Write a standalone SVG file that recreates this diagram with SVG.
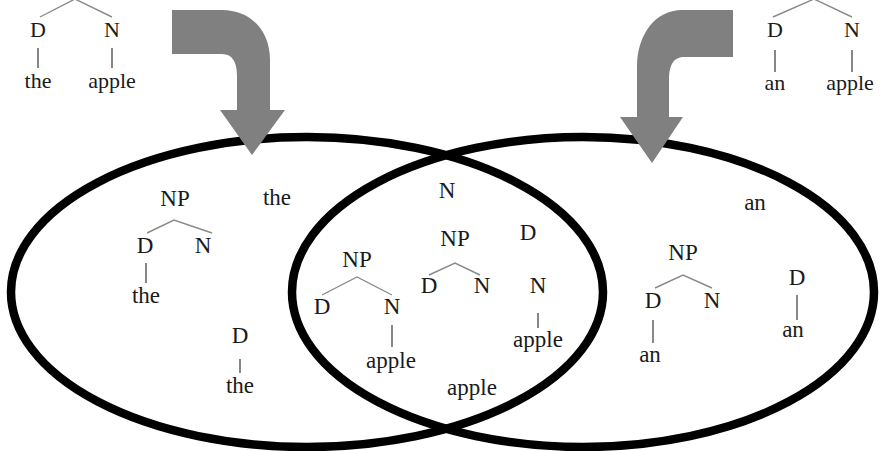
<svg xmlns="http://www.w3.org/2000/svg" width="882" height="451" viewBox="0 0 882 451">
<style>
text{font-family:"Liberation Serif","Times New Roman",Times,"DejaVu Serif","Noto Serif",FreeSerif,Tinos,serif;font-size:23px;fill:#1a1a1a;text-anchor:middle}
text.sm{font-size:22px}
.br{stroke:#8a8a8a;stroke-width:1.4;fill:none}
.vl{stroke:#555;stroke-width:1.4;fill:none}
.set{fill:none;stroke:#000;stroke-width:8.5}
.arrow{fill:#808080;stroke:none}
</style>
<rect width="882" height="451" fill="#fff"/>
<g id="input-the-apple">
<path class="br" d="M40,17 L75,-1 L112,17"/>
<text class="sm" x="38" y="37">D</text><text class="sm" x="112" y="37">N</text>
<path class="vl" d="M38,48 V68 M112,48 V68"/>
<text class="sm" x="38" y="88">the</text><text class="sm" x="112" y="88">apple</text>
</g>
<g id="input-an-apple">
<path class="br" d="M773,17 L814,-1 L852,17"/>
<text class="sm" x="775" y="37">D</text><text class="sm" x="852" y="37">N</text>
<path class="vl" d="M775,50 V72 M852,50 V72"/>
<text class="sm" x="775" y="90">an</text><text class="sm" x="850" y="90">apple</text>
</g>
<g id="sets">
<ellipse id="set-left" class="set" cx="307" cy="292" rx="296" ry="155"/>
<ellipse id="set-right" class="set" cx="583" cy="292" rx="291" ry="155"/>
</g>
<g id="connectors">
<path id="arrow-left" class="arrow" d="M172,10 L222,10 C250,10 270,30 270,60 L270,110 L285,110 L252,155 L220,110 L237,110 L237,76 C237,63 233,54 222,54 L172,54 Z"/>
<path id="arrow-right" class="arrow" d="M733,10 L682,10 C655,10 637,35 637,67 L637,117 L620,117 L652,163 L683,117 L669,117 L669,80 C669,66 673,57 684,57 L733,57 Z"/>
</g>
<g id="left-only">
<text x="175" y="206">NP</text>
<path class="br" d="M147,233 L174,220 L212,233"/>
<text x="145" y="253">D</text><text x="203" y="253">N</text>
<path class="vl" d="M146,263 V283"/>
<text x="146" y="303">the</text>
<text x="277" y="205">the</text>
<text x="240" y="343">D</text>
<path class="vl" d="M240,359 V373"/>
<text x="240" y="393">the</text>
</g>
<g id="shared">
<text x="447" y="198">N</text>
<text x="455" y="246">NP</text>
<path class="br" d="M429,275 L455,263 L480,275"/>
<text x="429" y="293">D</text><text x="482" y="293">N</text>
<text x="528" y="240">D</text>
<text x="538" y="293">N</text>
<path class="vl" d="M538,313 V328"/>
<text x="538" y="347">apple</text>
<text x="357" y="267">NP</text>
<path class="br" d="M322,295 L357,277 L392,295"/>
<text x="322" y="314">D</text><text x="392" y="314">N</text>
<path class="vl" d="M392,325 V347"/>
<text x="391" y="368">apple</text>
<text x="472" y="395">apple</text>
</g>
<g id="right-only">
<text x="755" y="210">an</text>
<text x="683" y="260">NP</text>
<path class="br" d="M655,288 L683,275 L712,288"/>
<text x="653" y="308">D</text><text x="712" y="308">N</text>
<path class="vl" d="M653,320 V343"/>
<text x="650" y="362">an</text>
<text x="797" y="285">D</text>
<path class="vl" d="M797,295 V320"/>
<text x="793" y="337">an</text>
</g>
</svg>
